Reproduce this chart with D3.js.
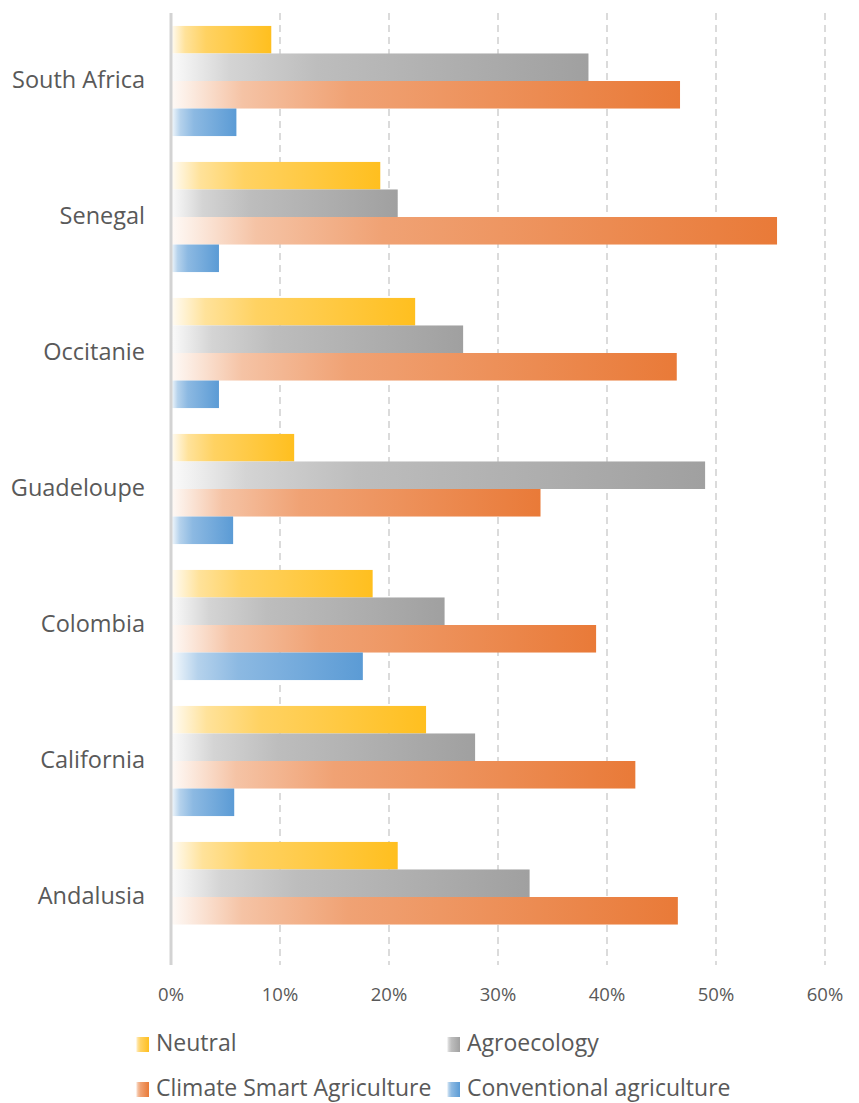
<!DOCTYPE html>
<html>
<head>
<meta charset="utf-8">
<script src="https://cdn.jsdelivr.net/npm/d3@7"></script>
<style>
  html, body { margin: 0; padding: 0; background: #fff; }
  svg { display: block; font-family: 'Open Sans', 'Noto Sans', sans-serif; }
</style>
</head>
<body>
<svg id="chart" width="859" height="1103"></svg>
<script>
// 데이터
const regions = ['South Africa', 'Senegal', 'Occitanie', 'Guadeloupe', 'Colombia', 'California', 'Andalusia'];
const seriesNames = ['Neutral', 'Agroecology', 'Climate Smart Agriculture', 'Conventional agriculture'];
const neutral = [0.092, 0.192, 0.224, 0.113, 0.185, 0.234, 0.208];
const agroecology = [0.383, 0.208, 0.268, 0.490, 0.251, 0.279, 0.329];
const climateSmart = [0.467, 0.556, 0.464, 0.339, 0.390, 0.426, 0.465];
const conventional = [0.060, 0.044, 0.044, 0.057, 0.176, 0.058, 0];
const xTicks = [0, 0.1, 0.2, 0.3, 0.4, 0.5, 0.6];

const seriesValues = [neutral, agroecology, climateSmart, conventional];
const colors = ['#FFBF1F', '#A0A0A0', '#E97A38', '#5B9BD5'];

const svg = d3.select('#chart');
const defs = svg.append('defs');

// 그라데이션 (흰색 -> 색상)
colors.forEach((c, i) => {
  const mix = d3.interpolateRgb('#ffffff', c);
  const grad = defs.append('linearGradient')
    .attr('id', `grad${i}`)
    .attr('x1', '0%').attr('x2', '100%')
    .attr('y1', '0%').attr('y2', '0%');
  [[0, 0.04], [0.14, 0.45], [0.35, 0.7], [1, 1]].forEach(([o, t]) => {
    grad.append('stop').attr('offset', o).attr('stop-color', mix(t));
  });
});

const x = d3.scaleLinear().domain([0, 0.6]).range([171, 825]);
const y0 = d3.scaleBand().domain(regions).range([13, 965]);
const y1 = d3.scaleBand().domain(seriesNames).range([0, y0.bandwidth()]).paddingOuter(0.47);

// 그리드 선
svg.append('g')
  .selectAll('line')
  .data(xTicks.slice(1))
  .join('line')
  .attr('x1', (d) => x(d)).attr('x2', (d) => x(d))
  .attr('y1', 13).attr('y2', 965)
  .attr('stroke', '#C8C8C8')
  .attr('stroke-width', 1.3)
  .attr('stroke-dasharray', '7,5');

// 막대
const rows = regions.map((r, i) => ({ region: r, values: seriesValues.map((s, j) => ({ key: seriesNames[j], idx: j, v: s[i] })) }));

svg.append('g')
  .selectAll('g')
  .data(rows)
  .join('g')
  .attr('transform', (d) => `translate(0,${y0(d.region)})`)
  .selectAll('rect')
  .data((d) => d.values.filter((v) => v.v > 0))
  .join('rect')
  .attr('x', x(0))
  .attr('y', (d) => y1(d.key))
  .attr('width', (d) => x(d.v) - x(0))
  .attr('height', y1.bandwidth())
  .attr('fill', (d) => `url(#grad${d.idx})`);

// 세로축 선
svg.append('line')
  .attr('x1', x(0)).attr('x2', x(0))
  .attr('y1', 13).attr('y2', 965)
  .attr('stroke', '#D3D3D3')
  .attr('stroke-width', 3);

// 지역 라벨
svg.append('g')
  .selectAll('text')
  .data(regions)
  .join('text')
  .attr('x', 145)
  .attr('y', (d) => y0(d) + y0.bandwidth() / 2 + 1)
  .attr('text-anchor', 'end')
  .attr('dominant-baseline', 'middle')
  .attr('font-size', 23.5)
  .attr('fill', '#595959')
  .text((d) => d);

// x축 라벨
svg.append('g')
  .selectAll('text')
  .data(xTicks)
  .join('text')
  .attr('x', (d) => x(d))
  .attr('y', 996)
  .attr('text-anchor', 'middle')
  .attr('dominant-baseline', 'middle')
  .attr('font-size', 18.5)
  .attr('fill', '#595959')
  .text((d) => d3.format('.0%')(d));

// 범례
const legendPos = [[136, 1044], [447, 1044], [136, 1089], [447, 1089]];
const legend = svg.append('g')
  .selectAll('g')
  .data(seriesNames)
  .join('g')
  .attr('transform', (d, i) => `translate(${legendPos[i][0]},${legendPos[i][1]})`);

legend.append('rect')
  .attr('x', 0).attr('y', -7)
  .attr('width', 13).attr('height', 15)
  .attr('fill', (d, i) => `url(#grad${i})`);

legend.append('text')
  .attr('x', 20)
  .attr('y', 1)
  .attr('dominant-baseline', 'middle')
  .attr('font-size', 23)
  .attr('fill', '#595959')
  .text((d) => d);
</script>
</body>
</html>
